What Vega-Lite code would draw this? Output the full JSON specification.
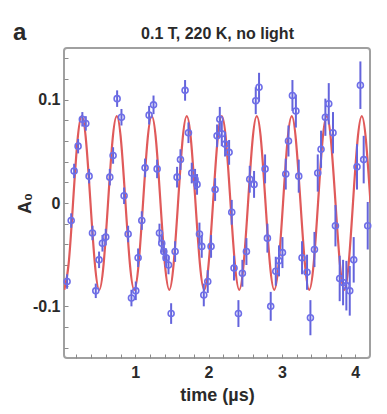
{
  "$schema": "https://vega.github.io/schema/vega-lite/v6.json",
  "width": 306,
  "height": 310,
  "autosize": {"type": "none"},
  "padding": {"left": 64, "top": 48, "right": 17, "bottom": 56},
  "background": "white",
  "title": {"text": "a", "anchor": "start", "frame": "group", "font": "Liberation Sans", "fontSize": 24, "fontWeight": "bold", "color": "#2a2a2a", "baseline": "alphabetic", "offset": 0, "dx": -51, "dy": 39},
  "config": {
    "view": {"stroke": "#a0a0a0", "strokeWidth": 2, "cornerRadius": 3},
    "axis": {"grid": false, "domain": false, "labelFont": "Liberation Sans", "titleFont": "Liberation Sans", "labelFontWeight": "bold", "titleFontWeight": "bold", "labelColor": "#2a2a2a", "titleColor": "#2a2a2a", "tickColor": "#8a8a8a", "tickWidth": 1}
  },
  "datasets": {
    "curve": [
      {"t":0.034,"A":-0.084},{"t":0.093,"A":-0.059},{"t":0.153,"A":0},{"t":0.212,"A":0.059},{"t":0.272,"A":0.084},{"t":0.332,"A":0.059},{"t":0.391,"A":0},{"t":0.451,"A":-0.059},
      {"t":0.510,"A":-0.084},{"t":0.570,"A":-0.059},{"t":0.630,"A":0},{"t":0.689,"A":0.059},{"t":0.749,"A":0.084},{"t":0.809,"A":0.059},{"t":0.868,"A":0},{"t":0.928,"A":-0.059},
      {"t":0.987,"A":-0.084},{"t":1.047,"A":-0.059},{"t":1.107,"A":0},{"t":1.166,"A":0.059},{"t":1.226,"A":0.084},{"t":1.286,"A":0.059},{"t":1.345,"A":0},{"t":1.405,"A":-0.059},
      {"t":1.465,"A":-0.084},{"t":1.524,"A":-0.059},{"t":1.584,"A":0},{"t":1.643,"A":0.059},{"t":1.703,"A":0.084},{"t":1.763,"A":0.059},{"t":1.822,"A":0},{"t":1.882,"A":-0.059},
      {"t":1.941,"A":-0.084},{"t":2.001,"A":-0.059},{"t":2.061,"A":0},{"t":2.120,"A":0.059},{"t":2.180,"A":0.084},{"t":2.240,"A":0.059},{"t":2.299,"A":0},{"t":2.359,"A":-0.059},
      {"t":2.418,"A":-0.084},{"t":2.478,"A":-0.059},{"t":2.538,"A":0},{"t":2.597,"A":0.059},{"t":2.657,"A":0.084},{"t":2.717,"A":0.059},{"t":2.776,"A":0},{"t":2.836,"A":-0.059},
      {"t":2.895,"A":-0.084},{"t":2.955,"A":-0.059},{"t":3.015,"A":0},{"t":3.074,"A":0.059},{"t":3.134,"A":0.084},{"t":3.193,"A":0.059},{"t":3.253,"A":0},{"t":3.313,"A":-0.059},
      {"t":3.372,"A":-0.084},{"t":3.432,"A":-0.059},{"t":3.492,"A":0},{"t":3.551,"A":0.059},{"t":3.611,"A":0.084},{"t":3.670,"A":0.059},{"t":3.730,"A":0},{"t":3.790,"A":-0.059},
      {"t":3.849,"A":-0.084},{"t":3.909,"A":-0.059},{"t":3.968,"A":0},{"t":4.028,"A":0.059},{"t":4.088,"A":0.084},{"t":4.147,"A":0.059},{"t":4.207,"A":0}
    ],
    "pts": [
      {"t":0.072,"A":-0.076,"err":0.007},{"t":0.128,"A":-0.017,"err":0.007},{"t":0.168,"A":0.031,"err":0.007},{"t":0.222,"A":0.055,"err":0.007},
      {"t":0.28,"A":0.081,"err":0.007},{"t":0.327,"A":0.077,"err":0.007},{"t":0.372,"A":0.026,"err":0.007},{"t":0.418,"A":-0.029,"err":0.007},
      {"t":0.463,"A":-0.085,"err":0.007},{"t":0.508,"A":-0.055,"err":0.008},{"t":0.554,"A":-0.039,"err":0.008},{"t":0.599,"A":-0.033,"err":0.008},
      {"t":0.654,"A":0.025,"err":0.008},{"t":0.699,"A":0.046,"err":0.008},{"t":0.754,"A":0.101,"err":0.008},{"t":0.813,"A":0.083,"err":0.008},
      {"t":0.849,"A":0.007,"err":0.008},{"t":0.904,"A":-0.030,"err":0.008},{"t":0.949,"A":-0.092,"err":0.008},{"t":1.008,"A":-0.085,"err":0.009},
      {"t":1.04,"A":-0.053,"err":0.009},{"t":1.09,"A":-0.017,"err":0.009},{"t":1.135,"A":0.034,"err":0.009},{"t":1.19,"A":0.085,"err":0.009},
      {"t":1.25,"A":0.095,"err":0.009},{"t":1.299,"A":0.033,"err":0.009},{"t":1.331,"A":-0.029,"err":0.009},{"t":1.362,"A":-0.039,"err":0.009},
      {"t":1.39,"A":-0.047,"err":0.009},{"t":1.421,"A":-0.053,"err":0.009},{"t":1.454,"A":-0.060,"err":0.009},{"t":1.49,"A":-0.107,"err":0.010},
      {"t":1.544,"A":-0.047,"err":0.010},{"t":1.571,"A":0.025,"err":0.010},{"t":1.617,"A":0.042,"err":0.010},{"t":1.68,"A":0.109,"err":0.010},
      {"t":1.726,"A":0.068,"err":0.010},{"t":1.771,"A":0.029,"err":0.010},{"t":1.816,"A":0.023,"err":0.010},{"t":1.843,"A":0.018,"err":0.010},
      {"t":1.876,"A":-0.030,"err":0.011},{"t":1.907,"A":-0.042,"err":0.011},{"t":1.935,"A":-0.089,"err":0.011},{"t":1.989,"A":-0.076,"err":0.011},
      {"t":2.034,"A":-0.042,"err":0.011},{"t":2.089,"A":0.013,"err":0.011},{"t":2.116,"A":0.065,"err":0.011},{"t":2.153,"A":0.081,"err":0.012},
      {"t":2.18,"A":0.067,"err":0.012},{"t":2.225,"A":0.057,"err":0.012},{"t":2.28,"A":0.049,"err":0.012},{"t":2.316,"A":-0.009,"err":0.012},
      {"t":2.347,"A":-0.063,"err":0.012},{"t":2.407,"A":-0.107,"err":0.013},{"t":2.461,"A":-0.068,"err":0.013},{"t":2.516,"A":-0.047,"err":0.013},
      {"t":2.561,"A":0.023,"err":0.013},{"t":2.62,"A":0.018,"err":0.013},{"t":2.643,"A":0.099,"err":0.013},{"t":2.688,"A":0.112,"err":0.014},
      {"t":2.77,"A":0.033,"err":0.014},{"t":2.802,"A":-0.034,"err":0.014},{"t":2.847,"A":-0.100,"err":0.014},{"t":2.916,"A":-0.066,"err":0.014},
      {"t":2.96,"A":-0.056,"err":0.015},{"t":3.007,"A":-0.048,"err":0.015},{"t":3.052,"A":0.028,"err":0.015},{"t":3.089,"A":0.060,"err":0.015},
      {"t":3.143,"A":0.104,"err":0.015},{"t":3.19,"A":0.089,"err":0.016},{"t":3.229,"A":0.026,"err":0.016},{"t":3.274,"A":-0.053,"err":0.016},
      {"t":3.342,"A":-0.067,"err":0.017},{"t":3.388,"A":-0.111,"err":0.017},{"t":3.443,"A":-0.045,"err":0.017},{"t":3.488,"A":0.029,"err":0.018},
      {"t":3.533,"A":0.052,"err":0.018},{"t":3.592,"A":0.083,"err":0.018},{"t":3.638,"A":0.096,"err":0.020},{"t":3.696,"A":0.068,"err":0.020},
      {"t":3.729,"A":-0.022,"err":0.020},{"t":3.787,"A":-0.073,"err":0.022},{"t":3.833,"A":-0.077,"err":0.022},{"t":3.878,"A":-0.080,"err":0.024},
      {"t":3.924,"A":-0.085,"err":0.024},{"t":3.978,"A":-0.055,"err":0.022},{"t":4.023,"A":0.035,"err":0.022},{"t":4.069,"A":0.114,"err":0.023},
      {"t":4.114,"A":0.042,"err":0.023},{"t":4.169,"A":-0.022,"err":0.023}
    ]
  },
  "layer": [
    {
      "data": {"name": "curve"},
      "mark": {"type": "line", "color": "#e05a5a", "strokeWidth": 2.2, "interpolate": "natural", "clip": true},
      "encoding": {
        "x": {"field": "t", "type": "quantitative", "scale": {"domain": [0.03, 4.2], "nice": false, "zero": false},
          "axis": {"orient": "bottom", "values": [0.2,0.4,0.6,0.8,1,1.2,1.4,1.6,1.8,2,2.2,2.4,2.6,2.8,3,3.2,3.4,3.6,3.8,4],
            "labelExpr": "datum.value % 1 == 0 ? '' + datum.value : ''", "tickSize": -4, "labelPadding": 10, "labelFontSize": 16,
            "title": "time (µs)", "titleFontSize": 18, "titlePadding": 6}},
        "y": {"field": "A", "type": "quantitative", "scale": {"domain": [-0.15, 0.15], "nice": false, "zero": false},
          "axis": {"values": [-0.14,-0.12,-0.1,-0.08,-0.06,-0.04,-0.02,0,0.02,0.04,0.06,0.08,0.1,0.12,0.14],
            "labelExpr": "abs(datum.value - 0.1) < 0.000001 ? '0.1' : abs(datum.value) < 0.000001 ? '0' : abs(datum.value + 0.1) < 0.000001 ? '-0.1' : ''",
            "tickSize": -4, "labelPadding": 8, "labelFontSize": 16, "title": "A₀", "titleFontSize": 18, "titlePadding": -2}}
      }
    },
    {
      "data": {"name": "pts"},
      "mark": {"type": "errorbar", "ticks": false, "color": "#6464dc", "thickness": 2},
      "encoding": {
        "x": {"field": "t", "type": "quantitative", "axis": null},
        "y": {"field": "A", "type": "quantitative",
          "axis": {"values": [-0.14,-0.12,-0.1,-0.08,-0.06,-0.04,-0.02,0,0.02,0.04,0.06,0.08,0.1,0.12,0.14],
            "labelExpr": "abs(datum.value - 0.1) < 0.000001 ? '0.1' : abs(datum.value) < 0.000001 ? '0' : abs(datum.value + 0.1) < 0.000001 ? '-0.1' : ''",
            "tickSize": -4, "labelPadding": 8, "labelFontSize": 16, "title": "A₀", "titleFontSize": 18, "titlePadding": -2}},
        "yError": {"field": "err"}
      }
    },
    {
      "data": {"name": "pts"},
      "mark": {"type": "point", "shape": "circle", "filled": false, "size": 36, "strokeWidth": 1.6, "color": "#6e6ee8", "opacity": 1},
      "encoding": {
        "x": {"field": "t", "type": "quantitative",
          "axis": {"orient": "top", "domain": false, "ticks": false, "labels": false, "title": "0.1 T, 220 K, no light", "titleFontSize": 16, "titlePadding": 7}},
        "y": {"field": "A", "type": "quantitative",
          "axis": {"values": [-0.14,-0.12,-0.1,-0.08,-0.06,-0.04,-0.02,0,0.02,0.04,0.06,0.08,0.1,0.12,0.14],
            "labelExpr": "abs(datum.value - 0.1) < 0.000001 ? '0.1' : abs(datum.value) < 0.000001 ? '0' : abs(datum.value + 0.1) < 0.000001 ? '-0.1' : ''",
            "tickSize": -4, "labelPadding": 8, "labelFontSize": 16, "title": "A₀", "titleFontSize": 18, "titlePadding": -2}}
      }
    }
  ],
  "resolve": {"axis": {"x": "independent"}}
}
